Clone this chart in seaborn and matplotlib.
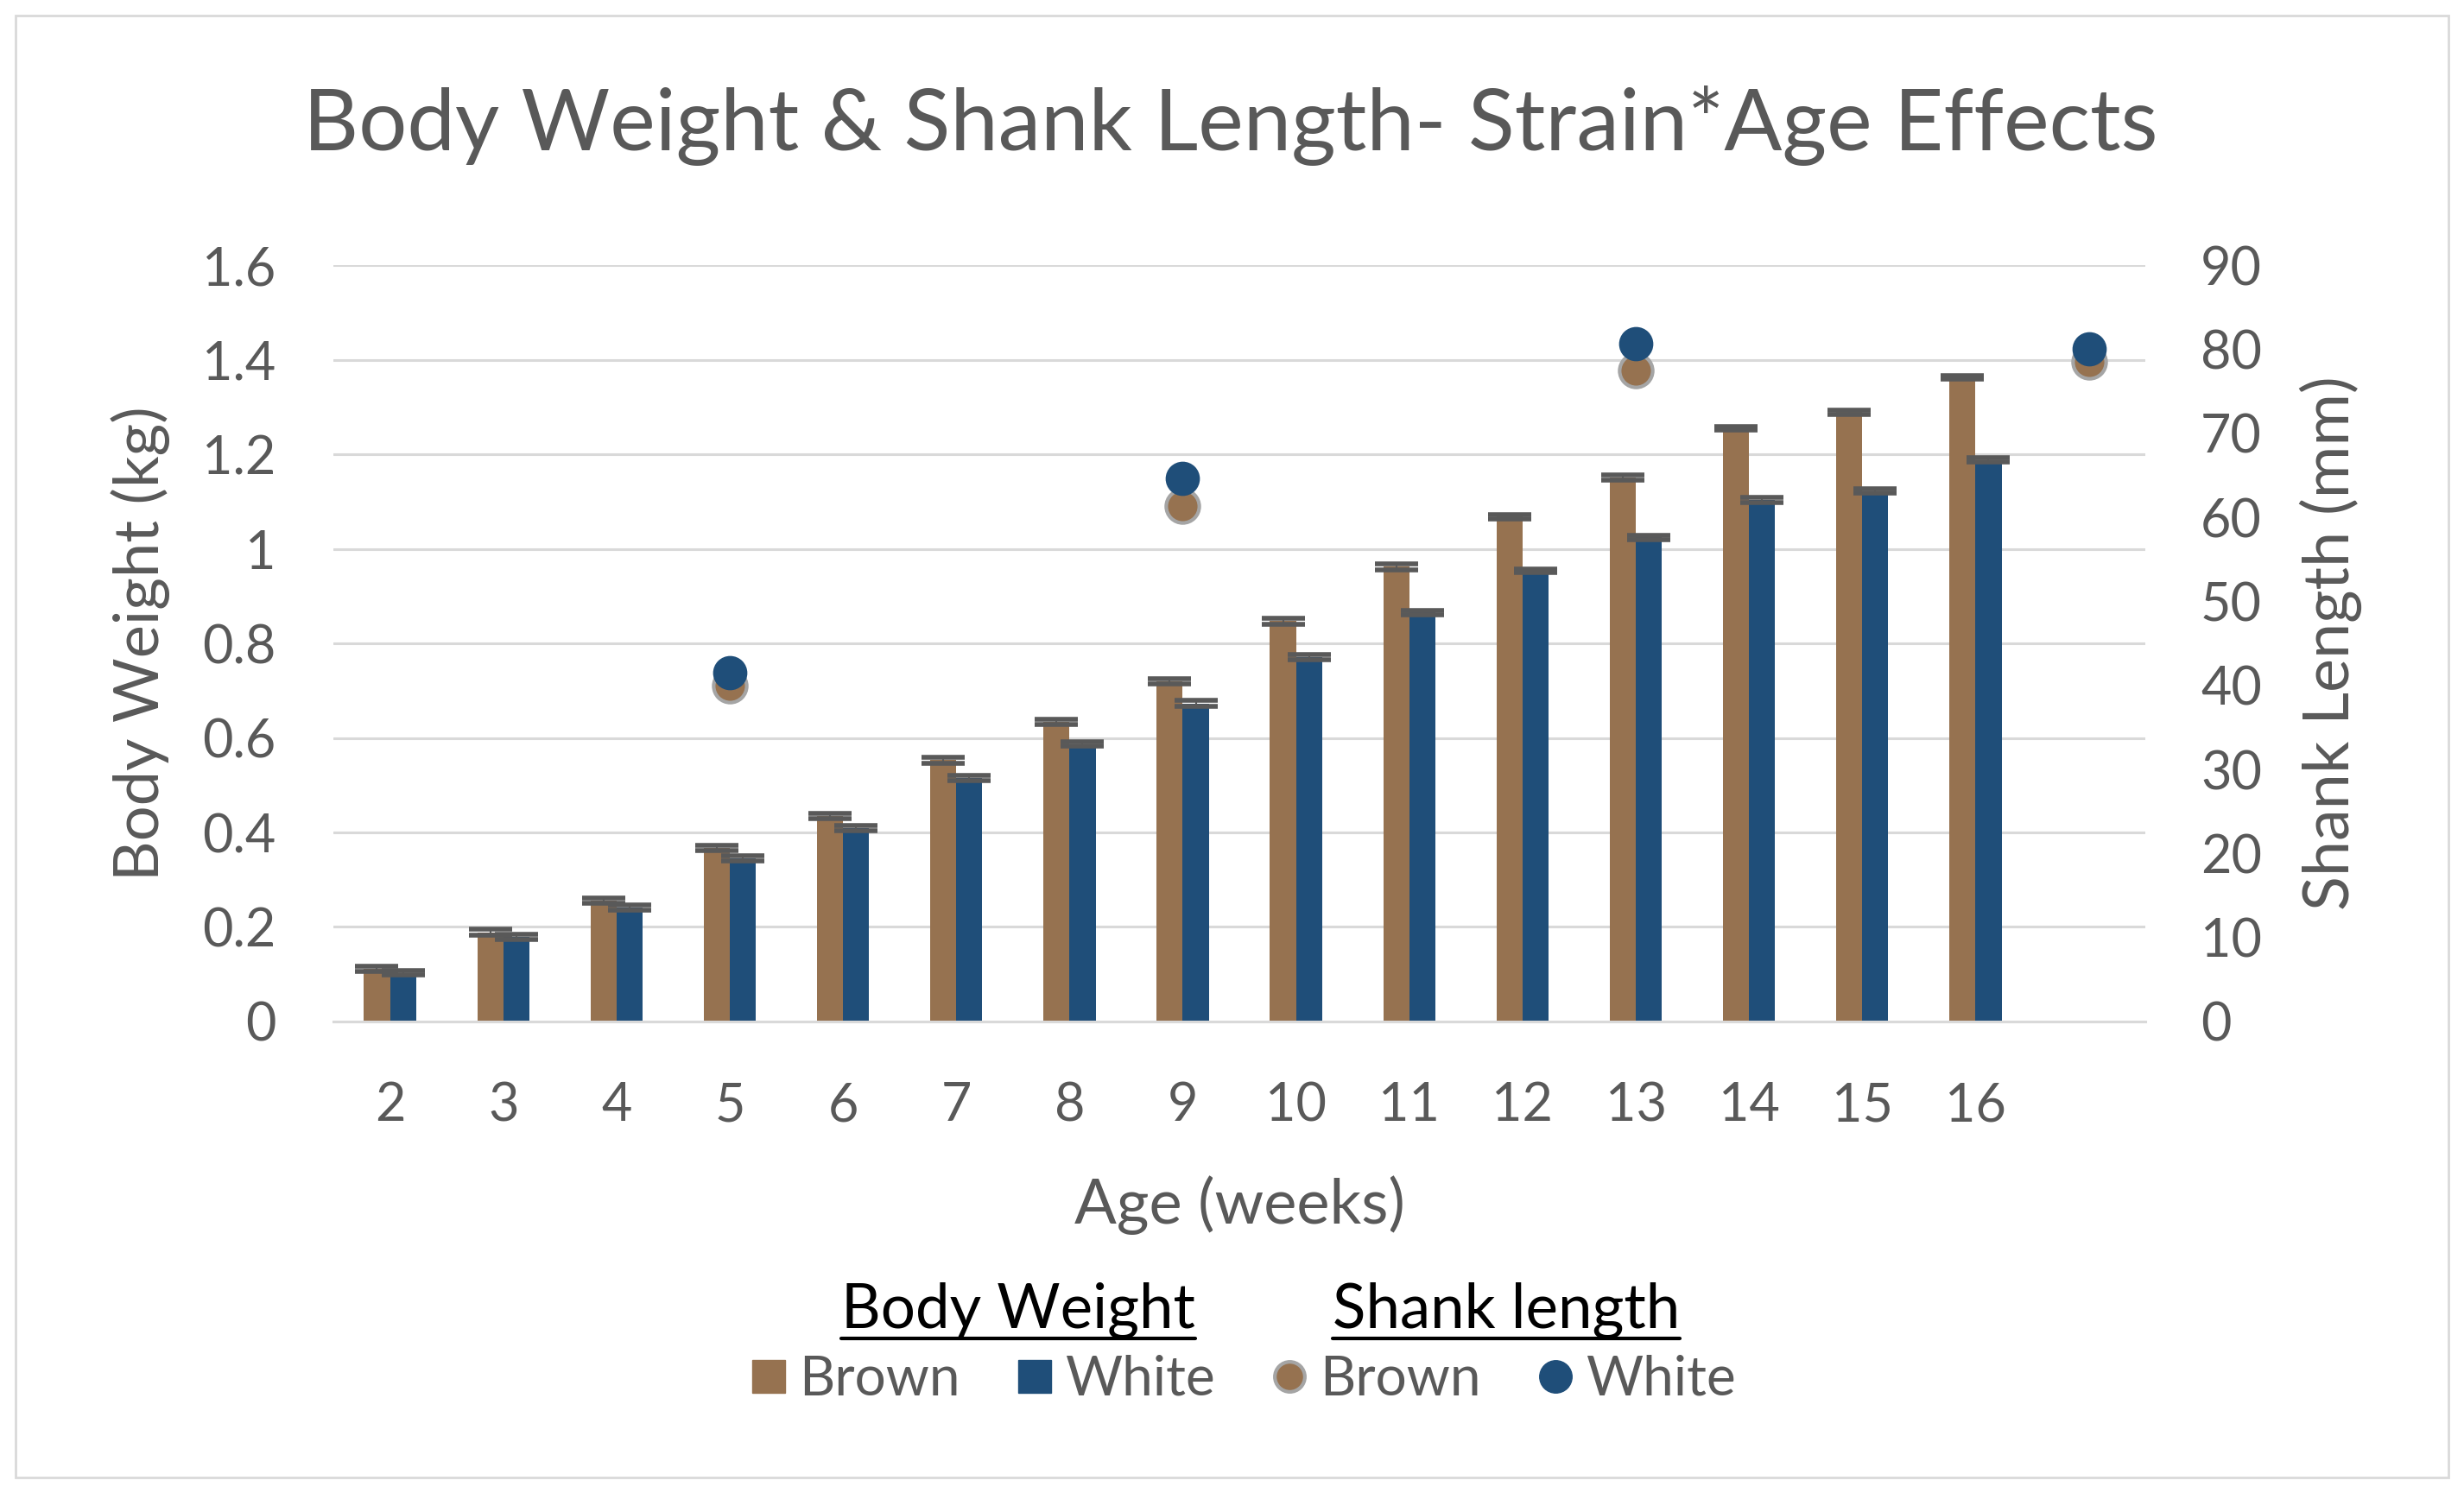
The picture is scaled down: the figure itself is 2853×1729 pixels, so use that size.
import numpy as np
import pandas as pd
import matplotlib
matplotlib.use("Agg")
import matplotlib.pyplot as plt
import seaborn as sns
from matplotlib.lines import Line2D
from matplotlib.patches import Rectangle

# ---- data ----
AGES = ["2", "3", "4", "5", "6", "7", "8", "9", "10", "11", "12", "13", "14", "15", "16"]
BW_BROWN = [0.111, 0.189, 0.256, 0.367, 0.435, 0.553, 0.634, 0.720, 0.847, 0.962, 1.068, 1.151, 1.255, 1.289, 1.363]
BW_WHITE = [0.103, 0.179, 0.241, 0.345, 0.409, 0.515, 0.587, 0.673, 0.771, 0.865, 0.953, 1.024, 1.103, 1.122, 1.188]
BW_BROWN_ERR = [0.005, 0.006, 0.006, 0.006, 0.006, 0.006, 0.006, 0.006, 0.006, 0.006, 0.005, 0.006, 0.004, 0.005, 0.004]
BW_WHITE_ERR = [0.005, 0.005, 0.006, 0.006, 0.006, 0.005, 0.004, 0.006, 0.006, 0.004, 0.004, 0.005, 0.005, 0.005, 0.004]

# shank length measured at 5, 9, 13 and 17 weeks (17 sits in the unlabeled slot)
SHANK_AGES = ["5", "9", "13", "17"]
SHANK_BROWN = [40.0, 61.3, 77.5, 78.5]
SHANK_WHITE = [41.5, 64.6, 80.7, 80.0]

BROWN = "#967250"
BLUE = "#1F4E79"
GREY_TXT = "#595959"
GRID = "#D9D9D9"

sns.set_theme(style="white")
plt.rcParams["font.family"] = ["Lato", "DejaVu Sans"]

df = pd.DataFrame({
    "age": AGES * 2,
    "weight": BW_BROWN + BW_WHITE,
    "strain": ["Brown"] * len(AGES) + ["White"] * len(AGES),
})

fig = plt.figure(figsize=(28.53, 17.29), dpi=100)
ax = fig.add_axes([0.1353, 0.3158, 0.7354, 0.5066])

sns.barplot(data=df, x="age", y="weight", hue="strain", order=AGES,
            hue_order=["Brown", "White"], palette=[BROWN, BLUE],
            width=0.46, gap=0, errorbar=None, legend=False, ax=ax,
            linewidth=0, edgecolor="none", saturation=1, zorder=2)

# error bars on top of each bar
err_map = {"Brown": BW_BROWN_ERR, "White": BW_WHITE_ERR}
for cont, name in zip(ax.containers, ["Brown", "White"]):
    xs, ys, es = [], [], []
    for bar in cont:
        c = bar.get_x() + bar.get_width() / 2
        i = int(round(c))
        xs.append(c)
        ys.append(bar.get_height())
        es.append(err_map[name][i])
    ax.errorbar(xs, ys, yerr=es, fmt="none", ecolor=GREY_TXT, elinewidth=1.5,
                capsize=18, capthick=4, zorder=3)

n_slots = len(AGES) + 1
ax.set_xlim(-0.5, n_slots - 0.5)
ax.set_ylim(0, 1.6)
ax.set_yticks(np.arange(0, 1.61, 0.2))
ax.set_yticklabels(["0", "0.2", "0.4", "0.6", "0.8", "1", "1.2", "1.4", "1.6"])
ax.set_xticks(range(len(AGES)))
ax.set_xticklabels(AGES)
ax.grid(axis="y", color=GRID, linewidth=2.2, zorder=0)
ax.set_axisbelow(True)
for s in ["top", "right", "left"]:
    ax.spines[s].set_visible(False)
ax.spines["bottom"].set_color(GRID)
ax.spines["bottom"].set_linewidth(2.2)
ax.tick_params(axis="both", length=0, labelsize=44, labelcolor=GREY_TXT)
ax.tick_params(axis="y", pad=48)
ax.tick_params(axis="x", pad=50)
ax.set_xlabel("Age (weeks)", fontsize=52, color=GREY_TXT)
ax.set_ylabel("Body Weight (kg)", fontsize=52, color=GREY_TXT)
ax.xaxis.set_label_coords(0.5, -0.204)
ax.yaxis.set_label_coords(-0.090, 0.5)

# secondary axis: shank length dots
ax2 = ax.twinx()
pos = [AGES.index(a) if a in AGES else len(AGES) for a in SHANK_AGES]
sns.scatterplot(x=pos, y=SHANK_BROWN, ax=ax2, color=BROWN, s=760,
                edgecolor="#A5A5A5", linewidth=3, zorder=4)
sns.scatterplot(x=pos, y=SHANK_WHITE, ax=ax2, color=BLUE, s=760,
                edgecolor=BLUE, linewidth=1, zorder=5)
ax2.set_ylim(0, 90)
ax2.set_yticks(range(0, 91, 10))
ax2.set_xlim(-0.5, n_slots - 0.5)
for s in ax2.spines.values():
    s.set_visible(False)
ax2.grid(False)
ax2.tick_params(axis="y", length=0, labelsize=44, labelcolor=GREY_TXT, pad=46)
ax2.set_ylabel("Shank Length (mm)", fontsize=53, color=GREY_TXT)
ax2.yaxis.set_label_coords(1.085, 0.5)

fig.text(0.4995, 0.9156, "Body Weight & Shank Length- Strain*Age Effects",
         ha="center", va="center", fontsize=71.5, color=GREY_TXT)

# legend group headers, underlined
hdrs = []
for xh, label in [(0.4133, "Body Weight"), (0.6113, "Shank length")]:
    hdrs.append(fig.text(xh, 0.1105, label, ha="center", va="baseline",
                         fontsize=51, color="black"))

handles = [
    Line2D([], [], marker="s", linestyle="none", markersize=28, color=BROWN),
    Line2D([], [], marker="s", linestyle="none", markersize=28, color=BLUE),
    Line2D([], [], marker="o", linestyle="none", markersize=25, markerfacecolor=BROWN,
           markeredgecolor="#A5A5A5", markeredgewidth=3),
    Line2D([], [], marker="o", linestyle="none", markersize=27, color=BLUE),
]
leg = fig.legend(handles, ["Brown", "White", "Brown", "White"], loc="center",
                 bbox_to_anchor=(0.5048, 0.0758), ncol=4, frameon=False,
                 fontsize=46, handlelength=0.6, handletextpad=0.25,
                 columnspacing=1.05, labelcolor=GREY_TXT)

fig.add_artist(Rectangle((18 / 2853, 18 / 1729), 1 - 36 / 2853, 1 - 36 / 1729,
                         transform=fig.transFigure, fill=False,
                         edgecolor=GRID, linewidth=2))

fig.canvas.draw()
r = fig.canvas.get_renderer()
inv = fig.transFigure.inverted()
for t in hdrs:
    bb = t.get_window_extent(r)
    (x0, _), (x1, _) = inv.transform([(bb.x0, 0), (bb.x1, 0)])
    yb = 0.1105 - 12 / 1729
    fig.add_artist(Line2D([x0, x1], [yb, yb], transform=fig.transFigure,
                          color="black", linewidth=3))

fig.savefig("out.png", dpi=100)
